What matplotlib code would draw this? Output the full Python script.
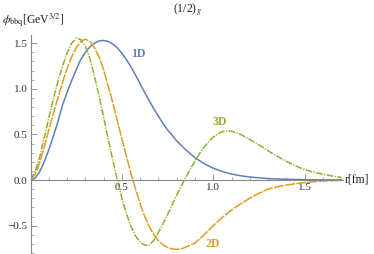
import matplotlib
matplotlib.use("Agg")
import matplotlib.pyplot as plt
from matplotlib.ticker import MultipleLocator, FixedLocator

plt.rcParams['font.family'] = ['Liberation Serif', 'DejaVu Serif']
plt.rcParams['mathtext.fontset'] = 'stix'

r_1d = [0, 0.025, 0.05, 0.075, 0.10, 0.125, 0.15, 0.175, 0.20, 0.225, 0.25, 0.275, 0.30, 0.325,
        0.35, 0.375, 0.40, 0.425, 0.45, 0.475, 0.50, 0.525, 0.55, 0.575, 0.60, 0.625, 0.65, 0.675,
        0.70, 0.725, 0.75, 0.80, 0.85, 0.90, 0.95, 1.00, 1.05, 1.10, 1.15, 1.20, 1.30, 1.40,
        1.50, 1.60, 1.70]
phi_1d = [0, 0.02, 0.09, 0.20, 0.33, 0.48, 0.64, 0.82, 0.96, 1.09, 1.21, 1.32, 1.40, 1.46,
          1.50, 1.525, 1.53, 1.52, 1.49, 1.45, 1.39, 1.32, 1.24, 1.15, 1.055, 0.96, 0.87, 0.78,
          0.70, 0.62, 0.55, 0.43, 0.33, 0.245, 0.18, 0.13, 0.093, 0.066, 0.047, 0.033, 0.016, 0.008,
          0.004, 0.002, 0.001]

r_2d = [0, 0.025, 0.05, 0.075, 0.10, 0.125, 0.15, 0.175, 0.20, 0.225, 0.25, 0.275, 0.30, 0.325,
        0.35, 0.375, 0.40, 0.425, 0.45, 0.475, 0.50, 0.525, 0.55, 0.575, 0.60, 0.625, 0.65, 0.675,
        0.70, 0.725, 0.75, 0.775, 0.80, 0.825, 0.85, 0.90, 0.95, 1.00, 1.05, 1.10, 1.15, 1.20,
        1.25, 1.30, 1.35, 1.40, 1.45, 1.50, 1.55, 1.60, 1.65, 1.70]
phi_2d = [0, 0.06, 0.19, 0.36, 0.55, 0.73, 0.90, 1.07, 1.22, 1.35, 1.45, 1.52, 1.545, 1.52,
          1.45, 1.35, 1.21, 1.03, 0.85, 0.65, 0.45, 0.26, 0.07, -0.10, -0.26, -0.40, -0.51, -0.60,
          -0.665, -0.71, -0.74, -0.755, -0.76, -0.755, -0.735, -0.69, -0.60, -0.50, -0.41, -0.33,
          -0.26, -0.20, -0.145, -0.10, -0.075, -0.055, -0.04, -0.028, -0.018, -0.011, -0.006, -0.003]

r_3d = [0, 0.025, 0.05, 0.075, 0.10, 0.125, 0.15, 0.175, 0.20, 0.225, 0.25, 0.275, 0.30, 0.325,
        0.35, 0.375, 0.40, 0.425, 0.45, 0.475, 0.50, 0.525, 0.55, 0.575, 0.60, 0.625, 0.65, 0.675,
        0.70, 0.725, 0.75, 0.775, 0.80, 0.825, 0.85, 0.875, 0.90, 0.925, 0.95, 0.975, 1.00, 1.025,
        1.05, 1.075, 1.10, 1.125, 1.15, 1.20, 1.25, 1.30, 1.35, 1.40, 1.45, 1.50, 1.55, 1.60,
        1.65, 1.70]
phi_3d = [0, 0.09, 0.25, 0.46, 0.68, 0.89, 1.08, 1.25, 1.39, 1.50, 1.555, 1.54, 1.47, 1.33,
          1.14, 0.92, 0.69, 0.45, 0.22, 0.0, -0.20, -0.37, -0.51, -0.615, -0.68, -0.715, -0.715, -0.66,
          -0.575, -0.48, -0.38, -0.27, -0.165, -0.065, 0.03, 0.12, 0.21, 0.29, 0.36, 0.42, 0.47, 0.505,
          0.53, 0.54, 0.535, 0.52, 0.50, 0.445, 0.385, 0.32, 0.26, 0.205, 0.155, 0.115, 0.085, 0.063,
          0.045, 0.03]

series_names = ["1D", "2D", "3D"]
colors = ["#5E81B5", "#E19C24", "#8FB032"]

xticks = [0.5, 1.0, 1.5]
xticklabels = ["0.5", "1.0", "1.5"]
yticks = [-0.5, 0.0, 0.5, 1.0, 1.5]
yticklabels = ["\u22120.5", "0.0", "0.5", "1.0", "1.5"]

fig = plt.figure(figsize=(3.74, 2.54), dpi=100)
ax = fig.add_axes([30.5/374, 1/254, (343-30.5)/374, (253-35)/254])

ax.plot(r_1d, phi_1d, color=colors[0], lw=1.1, solid_joinstyle='round')
ax.plot(r_2d, phi_2d, color=colors[1], lw=1.1, dashes=(6.5, 0.9), dash_joinstyle='round')
ax.plot(r_3d, phi_3d, color=colors[2], lw=1.1, dashes=(4.5, 0.9, 0.8, 0.9), dash_joinstyle='round')

ax.set_xlim(0, 1.71)
ax.set_ylim(-0.80, 1.59)

for s in ['top', 'right']:
    ax.spines[s].set_visible(False)
ax.spines['bottom'].set_position(('data', 0))
ax.spines['left'].set_position(('data', 0))
for s in ['bottom', 'left']:
    ax.spines[s].set_color('#888888')
    ax.spines[s].set_linewidth(0.8)

ax.xaxis.set_major_locator(FixedLocator(xticks))
ax.set_xticklabels(xticklabels)
ax.xaxis.set_minor_locator(MultipleLocator(0.1))
ax.yaxis.set_major_locator(FixedLocator(yticks))
ax.set_yticklabels(yticklabels)
ax.yaxis.set_minor_locator(MultipleLocator(0.1))

ax.tick_params(which='major', direction='in', length=4, width=0.6, color='#888888',
               labelsize=8, pad=2, labelcolor='#333333')
ax.tick_params(which='minor', direction='in', length=2, width=0.5, color='#888888')

ax.text(0.59, 1.38, series_names[0], color=colors[0], fontsize=8.5, fontweight='bold',
        ha='center', va='center')
ax.text(1.0, -0.70, series_names[1], color=colors[1], fontsize=8.5, fontweight='bold',
        ha='center', va='center')
ax.text(1.035, 0.64, series_names[2], color=colors[2], fontsize=8.5, fontweight='bold',
        ha='center', va='center')

fig.text(345/374, 1 - 180/254, "r[fm]", fontsize=8.5, ha='left', va='center', color='#222222')
fig.text(2/374, 1 - 20/254, r"$\phi_{\mathrm{bbq}}$[GeV$^{3/2}$]", fontsize=8.5,
         ha='left', va='center', color='#222222')
fig.text(187/374, 1 - 10/254, r"(1/2)$_{g}$", fontsize=8.5, ha='center', va='center',
         color='#222222')

fig.savefig("out.png", dpi=100)
